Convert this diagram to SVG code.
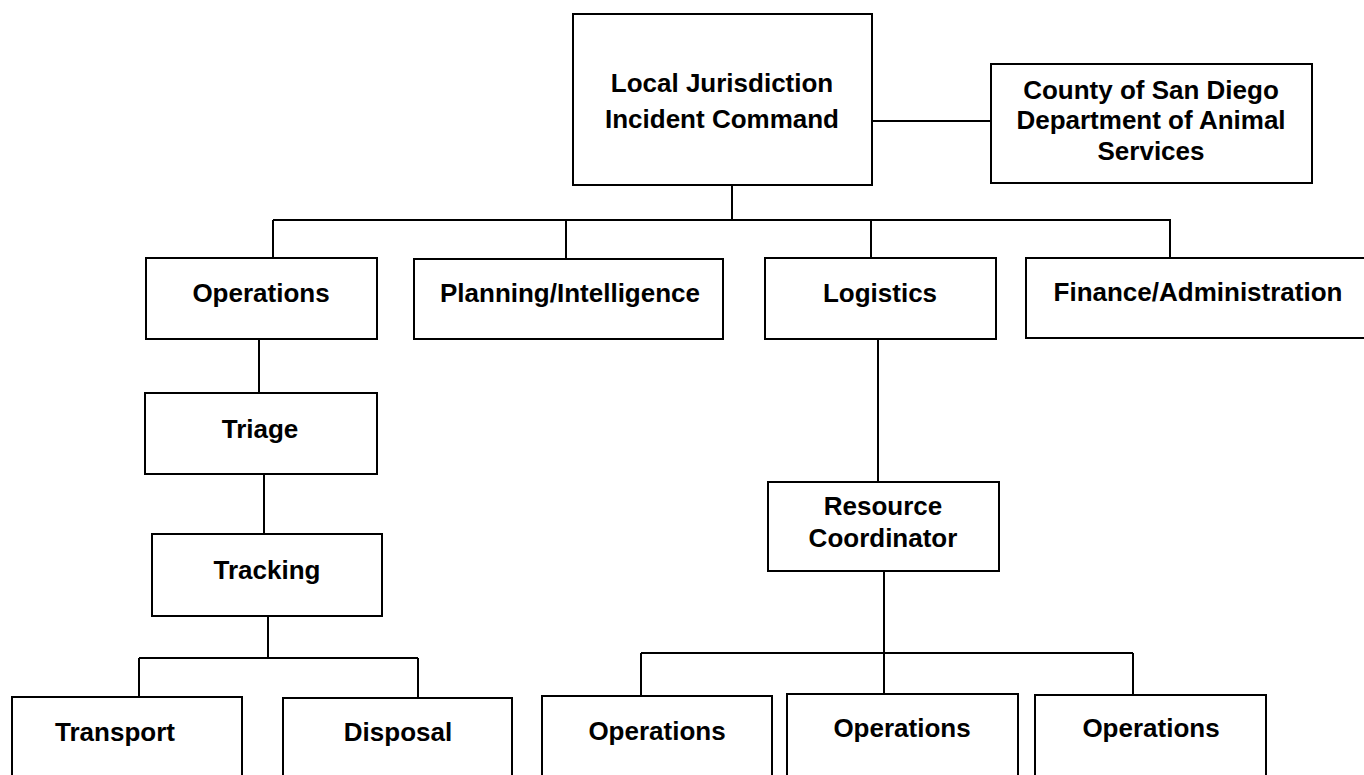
<svg xmlns="http://www.w3.org/2000/svg" width="1364" height="775" viewBox="0 0 1364 775">
  <style>
    .box { fill: #ffffff; stroke: #000000; stroke-width: 2; }
    .lbl { font-family: "Liberation Sans", Arial, sans-serif; font-weight: bold; font-size: 26px; fill: #000000; text-anchor: middle; }
    .wire { stroke: #000000; stroke-width: 2; fill: none; }
  </style>
  <rect width="1364" height="775" fill="#ffffff"/>

  <!-- connectors -->
  <g id="connectors">
    <line class="wire" x1="867" y1="121" x2="991" y2="121"/>
    <line class="wire" x1="732" y1="185" x2="732" y2="221"/>
    <line class="wire" x1="273" y1="220" x2="1171" y2="220"/>
    <line class="wire" x1="273" y1="220" x2="273" y2="258"/>
    <line class="wire" x1="566" y1="220" x2="566" y2="259"/>
    <line class="wire" x1="871" y1="220" x2="871" y2="258"/>
    <line class="wire" x1="1170" y1="220" x2="1170" y2="258"/>
    <line class="wire" x1="259" y1="339" x2="259" y2="393"/>
    <line class="wire" x1="264" y1="474" x2="264" y2="534"/>
    <line class="wire" x1="268" y1="616" x2="268" y2="658"/>
    <line class="wire" x1="139" y1="658" x2="418" y2="658"/>
    <line class="wire" x1="139" y1="658" x2="139" y2="697"/>
    <line class="wire" x1="418" y1="658" x2="418" y2="698"/>
    <line class="wire" x1="878" y1="339" x2="878" y2="482"/>
    <line class="wire" x1="884" y1="571" x2="884" y2="694"/>
    <line class="wire" x1="641" y1="653" x2="1133" y2="653"/>
    <line class="wire" x1="641" y1="653" x2="641" y2="696"/>
    <line class="wire" x1="1133" y1="653" x2="1133" y2="695"/>
  </g>

  <g id="incident-command">
    <rect class="box" x="573" y="14" width="299" height="171"/>
    <text class="lbl" x="722" y="92">Local Jurisdiction</text>
    <text class="lbl" x="722" y="128">Incident Command</text>
  </g>

  <g id="animal-services">
    <rect class="box" x="991" y="64" width="321" height="119"/>
    <text class="lbl" x="1151" y="99">County of San Diego</text>
    <text class="lbl" x="1151" y="129">Department of Animal</text>
    <text class="lbl" x="1151" y="160">Services</text>
  </g>

  <g id="operations">
    <rect class="box" x="146" y="258" width="231" height="81"/>
    <text class="lbl" x="261" y="302">Operations</text>
  </g>

  <g id="planning">
    <rect class="box" x="414" y="259" width="309" height="80"/>
    <text class="lbl" x="570" y="302">Planning/Intelligence</text>
  </g>

  <g id="logistics">
    <rect class="box" x="765" y="258" width="231" height="81"/>
    <text class="lbl" x="880" y="302">Logistics</text>
  </g>

  <g id="finance">
    <rect class="box" x="1026" y="258" width="350" height="80"/>
    <text class="lbl" x="1198" y="301">Finance/Administration</text>
  </g>

  <g id="triage">
    <rect class="box" x="145" y="393" width="232" height="81"/>
    <text class="lbl" x="260" y="438">Triage</text>
  </g>

  <g id="tracking">
    <rect class="box" x="152" y="534" width="230" height="82"/>
    <text class="lbl" x="267" y="579">Tracking</text>
  </g>

  <g id="transport">
    <rect class="box" x="12" y="697" width="230" height="100"/>
    <text class="lbl" x="115" y="741">Transport</text>
  </g>

  <g id="disposal">
    <rect class="box" x="283" y="698" width="229" height="100"/>
    <text class="lbl" x="398" y="741">Disposal</text>
  </g>

  <g id="resource-coordinator">
    <rect class="box" x="768" y="482" width="231" height="89"/>
    <text class="lbl" x="883" y="515">Resource</text>
    <text class="lbl" x="883" y="547">Coordinator</text>
  </g>

  <g id="operations-unit-1">
    <rect class="box" x="542" y="696" width="230" height="100"/>
    <text class="lbl" x="657" y="740">Operations</text>
  </g>

  <g id="operations-unit-2">
    <rect class="box" x="787" y="694" width="231" height="100"/>
    <text class="lbl" x="902" y="737">Operations</text>
  </g>

  <g id="operations-unit-3">
    <rect class="box" x="1035" y="695" width="231" height="100"/>
    <text class="lbl" x="1151" y="737">Operations</text>
  </g>
</svg>
